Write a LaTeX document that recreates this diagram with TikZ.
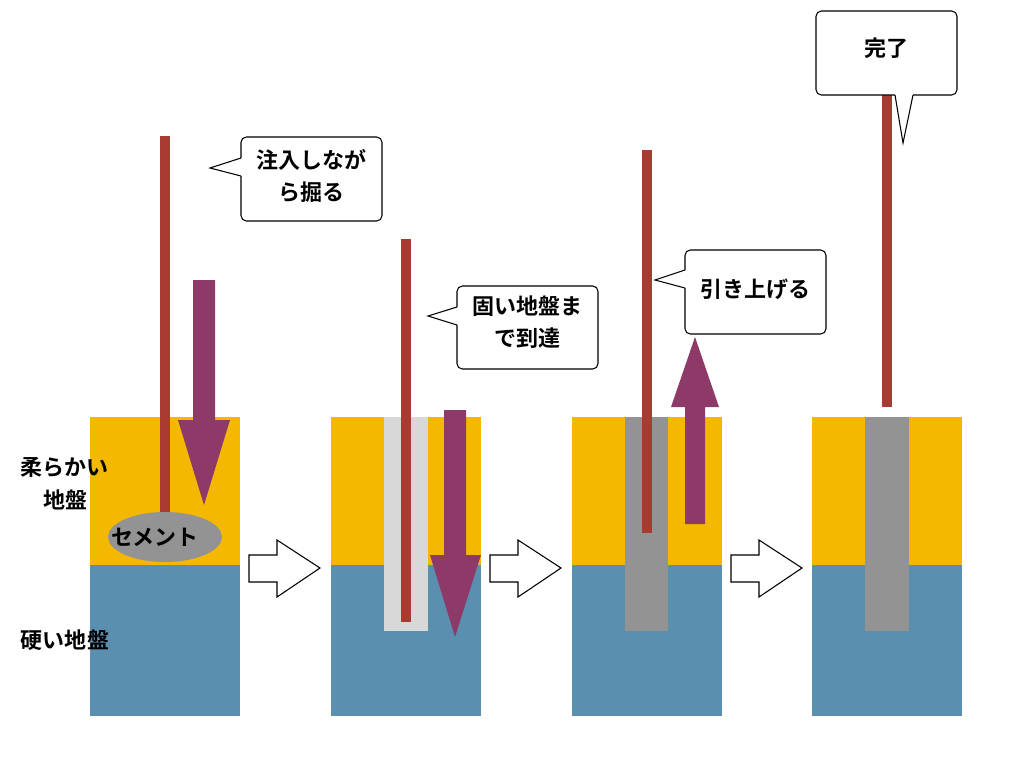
\documentclass[tikz,border=0pt]{standalone}
\usepackage{fontspec}
\setmainfont{Noto Sans CJK JP}[BoldFont={Noto Sans CJK JP Bold}]
\begin{document}
\begin{tikzpicture}[x=0.75pt,y=-0.75pt,
  soft/.style={fill=softc,draw=none},
  hard/.style={fill=hardc,draw=none},
  rod/.style={fill=rodc,draw=none},
  arr/.style={fill=arrc,draw=none},
  box/.style={draw=black,line width=0.8pt,fill=white,rounded corners=4pt},
  lbl/.style={font=\fontsize{16.5}{24}\selectfont\bfseries,align=center},
  hol/.style={draw=black,line width=0.8pt,fill=white}]
\definecolor{softc}{HTML}{F5B800}
\definecolor{hardc}{HTML}{5B8FB0}
\definecolor{rodc}{HTML}{A83A32}
\definecolor{arrc}{HTML}{8E3A68}
\definecolor{grayc}{HTML}{939393}
\definecolor{lgray}{HTML}{D8D8D8}
\useasboundingbox (0,0) rectangle (1024,758);
% ground
\foreach \x in {90,331,572,812}{
  \fill[soft] (\x,417) rectangle (\x+150,565);
  \fill[hard] (\x,565) rectangle (\x+150,716);}
% panel 1
\fill[rod] (160,136) rectangle (170,512);
\fill[arr] (193,280) -- (215,280) -- (215,420) -- (230,420) -- (204,505) -- (178,420) -- (193,420) -- cycle;
\fill[grayc] (165,537) ellipse [x radius=57, y radius=25];
\node[lbl] (cem) at (155,537) {セメント};
\draw[box] (241,137) rectangle (382,221);
\fill[white] (242,158) -- (242,176) -- (210,168) -- cycle;
\draw[line width=0.8pt] (241,158) -- (210,168) -- (241,176);
\node[lbl] (t1) at (311,176) {注入しなが\\ら掘る};
% panel 2
\fill[lgray] (384,417) rectangle (428,631);
\fill[rod] (401,239) rectangle (411,622);
\fill[arr] (444,410) -- (466,410) -- (466,555) -- (481,555) -- (455,637) -- (430,555) -- (444,555) -- cycle;
\draw[box] (457,286) rectangle (598,369);
\fill[white] (458,307) -- (458,325) -- (428,316) -- cycle;
\draw[line width=0.8pt] (457,307) -- (428,316) -- (457,325);
\node[lbl] (t2) at (527,322) {固い地盤ま\\で到達};
% panel 3
\fill[grayc] (625,417) rectangle (668,631);
\fill[rod] (642,150) rectangle (652,533);
\fill[arr] (685,524) -- (705,524) -- (705,407) -- (719,407) -- (695,337) -- (671,407) -- (685,407) -- cycle;
\draw[box] (685,250) rectangle (826,334);
\fill[white] (686,270) -- (686,288) -- (655,280) -- cycle;
\draw[line width=0.8pt] (685,270) -- (655,280) -- (685,288);
\node[lbl] (t3) at (755,289) {引き上げる};
% panel 4
\fill[grayc] (865,417) rectangle (909,631);
\fill[rod] (882,95) rectangle (892,407);
\draw[box] (816,11) rectangle (957,95);
\fill[white] (895,94) -- (913,94) -- (903,143) -- cycle;
\draw[line width=0.8pt] (895,95) -- (903,143) -- (913,95);
\node[lbl] (t4) at (886,48) {完了};
% hollow arrows
\foreach \x in {249,490,731}{
  \draw[hol] (\x,555) -- (\x+28,555) -- (\x+28,540) -- (\x+71,568) -- (\x+28,597) -- (\x+28,582) -- (\x,582) -- cycle;}
% labels
\node[lbl] (s1) at (64,467) {柔らかい};
\node[lbl] (s2) at (65,500) {地盤};
\node[lbl] (h1) at (65,640) {硬い地盤};
\end{tikzpicture}
\end{document}
